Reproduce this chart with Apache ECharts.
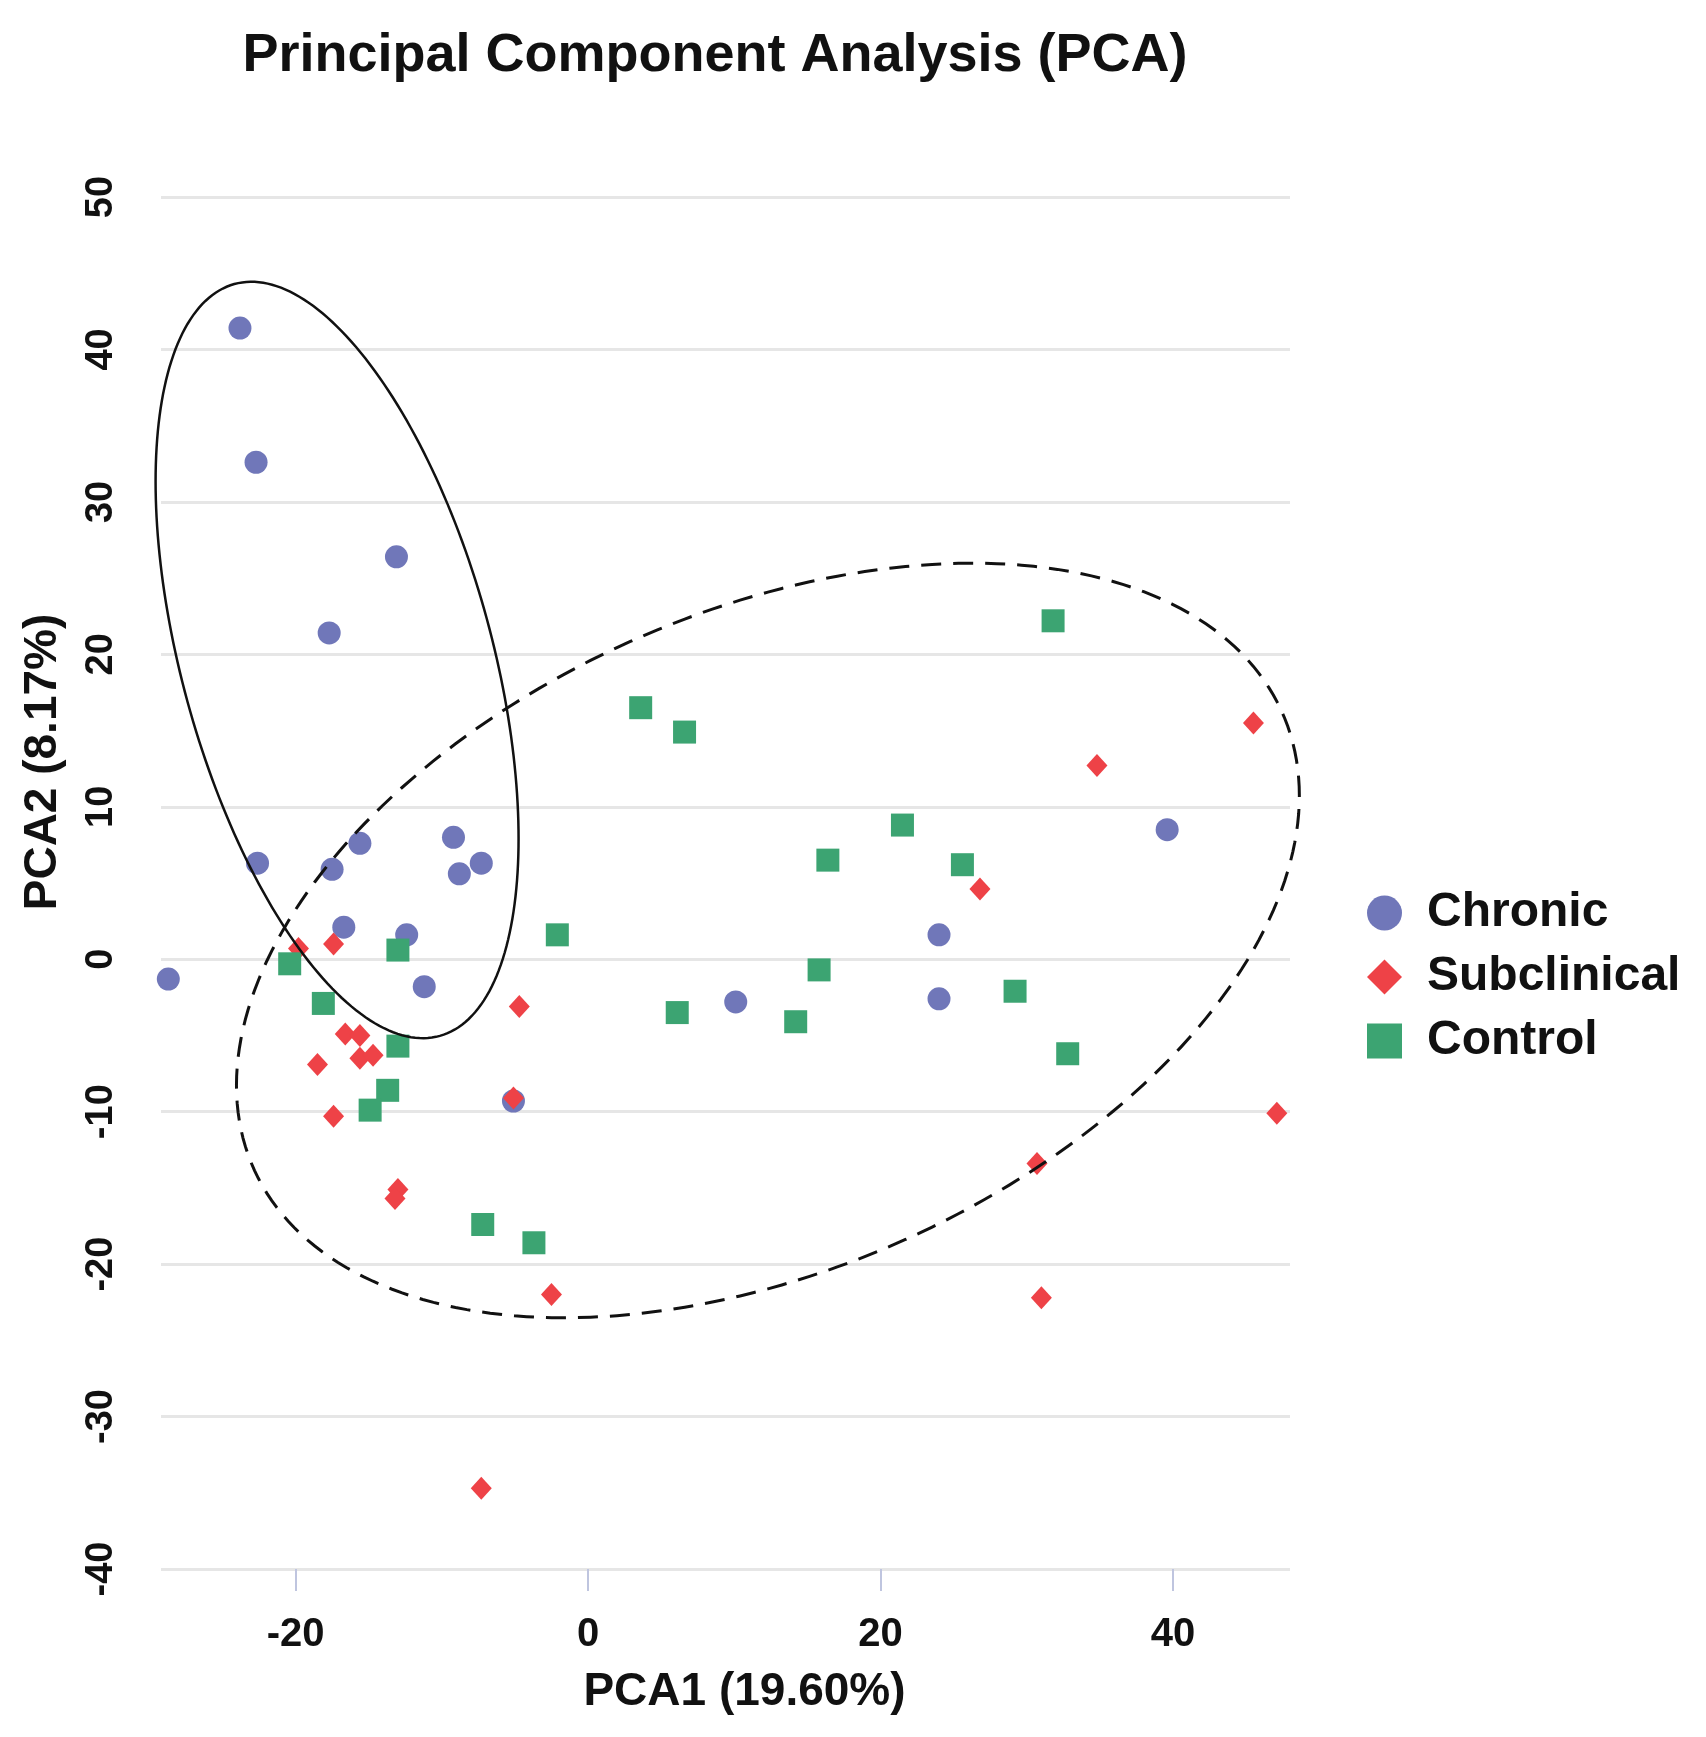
<!DOCTYPE html>
<html lang="en">
<head>
  <meta charset="UTF-8">
  <title>PCA</title>
  <script src="https://cdn.jsdelivr.net/npm/echarts@6/dist/echarts.min.js"></script>
  <style>
    html, body { margin: 0; padding: 0; background: #fff; }
    #chart { width: 1706px; height: 1737px; }
  </style>
</head>
<body>
  <div id="chart"></div>
  <script>
    // PCA scores: [PCA1, PCA2]
    var chronic = [
      [-23.8, 41.4], [-22.7, 32.6], [-13.1, 26.4], [-17.7, 21.4], [-22.6, 6.3],
      [-15.6, 7.6], [-17.5, 5.9], [-9.2, 8.0], [-7.3, 6.3], [-8.8, 5.6],
      [-16.7, 2.1], [-12.4, 1.6], [-28.7, -1.3], [-11.2, -1.8], [-5.1, -9.3],
      [24.0, 1.6], [10.1, -2.8], [24.0, -2.6], [39.6, 8.5]
    ]
    var subclinical = [
      [-19.8, 0.7], [-17.4, 1.0], [-4.7, -3.1], [-16.6, -4.9], [-15.6, -5.0],
      [-18.5, -6.9], [-15.6, -6.5], [-14.7, -6.3], [-17.4, -10.3], [-5.1, -9.1],
      [-13.0, -15.1], [-13.2, -15.7], [-2.5, -22.0], [-7.3, -34.7], [26.8, 4.6],
      [45.5, 15.5], [34.8, 12.7], [30.7, -13.4], [47.1, -10.1], [31.0, -22.2]
    ]
    var control = [
      [-20.4, -0.3], [-13.0, 0.6], [-2.1, 1.6], [-18.1, -2.9], [-13.0, -5.7],
      [-13.7, -8.6], [-14.9, -9.9], [3.6, 16.5], [6.6, 14.9], [21.5, 8.8],
      [16.4, 6.5], [25.6, 6.2], [15.8, -0.7], [6.1, -3.5], [14.2, -4.1],
      [29.2, -2.1], [31.8, 22.2], [32.8, -6.2], [-7.2, -17.4], [-3.7, -18.6]
    ]
    var groupNames = ['Chronic', 'Subclinical', 'Control']
    var xTicks = [-20, 0, 20, 40]

    // confidence ellipses: [centre x, centre y, radius x, radius y, correlation]
    var ellipseChronic = [-17.16, 19.63, 12.41, 24.81, -0.472]
    var ellipseOther = [12.30, 1.23, 36.34, 24.75, 0.384]

    function ellipseRenderer(width, dash) {
      return function (params, api) {
        var cx = api.value(0), cy = api.value(1)
        var rx = api.value(2), ry = api.value(3), rho = api.value(4)
        var k = Math.sqrt(1 - rho * rho)
        var pts = []
        for (var i = 0; i <= 240; i++) {
          var t = i / 240 * Math.PI * 2
          pts.push(api.coord([cx + rx * Math.cos(t), cy + ry * (rho * Math.cos(t) + k * Math.sin(t))]))
        }
        return {
          type: 'polyline',
          shape: { points: pts },
          style: { stroke: '#111', lineWidth: width, fill: null, lineDash: dash }
        }
      }
    }

    var font = '"Liberation Sans", Arial, sans-serif'
    var chart = echarts.init(document.getElementById('chart'))
    var option = {
      animation: false,
      backgroundColor: '#fff',
      title: {
        text: 'Principal Component Analysis (PCA)',
        left: 710,
        textAlign: 'center',
        top: 24,
        textStyle: { fontFamily: font, fontSize: 54, fontWeight: 'bold', color: '#111' }
      },
      legend: {
        data: groupNames,
        orient: 'vertical',
        left: 1362,
        top: 884,
        itemWidth: 35,
        itemHeight: 35,
        itemGap: 16,
        textStyle: { fontFamily: font, fontSize: 48, fontWeight: 'bold', color: '#111', lineHeight: 48, padding: [0, 0, 0, 20] }
      },
      grid: { left: 161, right: 416, top: 197, bottom: 168 },
      xAxis: {
        type: 'value',
        min: -29.2,
        max: 48,
        name: 'PCA1 (19.60%)',
        nameLocation: 'middle',
        nameGap: 100,
        nameTextStyle: { fontFamily: font, fontSize: 46, fontWeight: 'bold', color: '#111', padding: [0, 0, 0, 38] },
        axisLine: { show: false, onZero: false },
        splitLine: { show: false },
        axisTick: { show: true, customValues: xTicks, length: 22, lineStyle: { color: '#bfc5df', width: 2 } },
        axisLabel: { customValues: xTicks, margin: 46, fontFamily: font, fontSize: 40, fontWeight: 'bold', color: '#111' }
      },
      yAxis: {
        type: 'value',
        min: -40,
        max: 50,
        interval: 10,
        name: 'PCA2 (8.17%)',
        nameLocation: 'middle',
        nameGap: 95,
        nameTextStyle: { fontFamily: font, fontSize: 46, fontWeight: 'bold', color: '#111', padding: [0, 0, 0, 242] },
        axisLine: { show: false },
        axisTick: { show: false },
        splitLine: { lineStyle: { color: '#e6e6e6', width: 3 } },
        axisLabel: { rotate: 90, margin: 40, fontFamily: font, fontSize: 38, fontWeight: 'bold', color: '#111' }
      },
      series: [
        {
          name: 'Chronic', type: 'scatter', data: chronic,
          symbol: 'circle', symbolSize: 23,
          itemStyle: { color: '#7077b9', opacity: 1 }
        },
        {
          name: 'Subclinical', type: 'scatter', data: subclinical,
          symbol: 'diamond', symbolSize: [21, 23],
          itemStyle: { color: '#ee4247', opacity: 1 }
        },
        {
          name: 'Control', type: 'scatter', data: control,
          symbol: 'rect', symbolSize: 23,
          itemStyle: { color: '#3ca472', opacity: 1 }
        },
        {
          name: 'ellipse1', type: 'custom', data: [ellipseChronic],
          encode: { x: 0, y: 1 }, silent: true, clip: false, z: 5,
          renderItem: ellipseRenderer(2.5, null)
        },
        {
          name: 'ellipse2', type: 'custom', data: [ellipseOther],
          encode: { x: 0, y: 1 }, silent: true, clip: false, z: 5,
          renderItem: ellipseRenderer(3, [20, 12])
        }
      ]
    }
    chart.setOption(option)
  </script>
</body>
</html>
